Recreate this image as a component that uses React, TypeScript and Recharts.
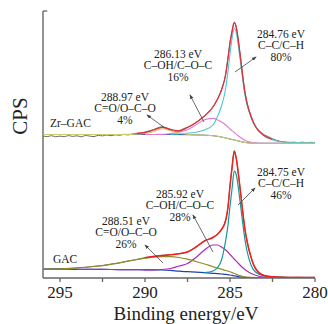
import { Line, LineChart, ReferenceLine, XAxis, YAxis } from "recharts";

// binding energies (eV) shared by the fitted curves
const energy = [
  296, 295, 294, 293, 292, 291, 290.5, 290, 289.5, 289, 288.5, 288, 287.5, 287,
  286.5, 286, 285.75, 285.5, 285.25, 285.125, 285, 284.875, 284.75, 284.625,
  284.5, 284.375, 284.25, 284.125, 284, 283.75, 283.5, 283, 282.5, 282, 281, 280,
];

// Zr-GAC (upper spectrum, offset)
const zrBackground = [
  143.5, 143.5, 143.5, 143.5, 143.5, 143.5, 143.5, 143.5, 143.5, 143.5, 143.5,
  143.4, 143.3, 143.1, 142.8, 142.3, 141.7, 141, 140, 139.5, 139, 138.5, 138,
  137.5, 137, 136.5, 136, 135.6, 135.3, 135, 134.8, 134.7, 134.7, 134.7, 134.7,
  134.7,
];
const zrCO = [
  143.5, 143.5, 143.5, 143.5, 143.5, 143.6, 143.8, 144.5, 146.3, 149.3, 147.3,
  145, 143.8, 143.1, 142.8, 142.3, 141.7, 141, 140, 139.5, 139, 138.5, 138,
  137.5, 137, 136.5, 136, 135.6, 135.3, 135, 134.8, 134.7, 134.7, 134.7, 134.7,
  134.7,
];
const zrCOH = [
  null, null, null, null, null, null, null, 143.5, 143.5, 143.6, 144.5, 145.9,
  148.3, 153.1, 158.3, 159.6, 158.2, 156, 153, 151, 149, 147.2, 145.5, 143.7,
  142, 140.5, 139, 137.8, 136.8, 135.7, 135, 134.7, 134.7, 134.7, 134.7, 134.7,
];
const zrCC = [
  null, null, null, null, null, null, null, null, null, null, 143.8, 144.2,
  144.8, 145.8, 148, 153, 161, 172, 190, 206, 224, 240, 249.7, 245, 231, 215,
  198, 183, 173.5, 160, 151, 142.3, 138.3, 136.2, 135.5, 135.2,
];
const zrEnvelope = [
  null, null, null, null, null, null, 144.5, 145.5, 148, 150.7, 148.5, 147,
  150.5, 155.5, 162, 171, 178.5, 188, 204, 219, 235, 247, 255.3, 250, 236, 219,
  201.5, 186, 175, 161, 151.5, 142.5, 138.5, null, null, null,
];
const zrRaw: [number, number][] = [
  [296, 142], [295.75, 141.4], [295.5, 142.3], [295.25, 141.2], [295, 141.9],
  [294.75, 141.3], [294.5, 142.4], [294.25, 141.6], [294, 142.2], [293.75, 141.2],
  [293.5, 142.5], [293.25, 141.9], [293, 141.4], [292.75, 142.7], [292.5, 142.1],
  [292.25, 143], [292, 142.3], [291.75, 143.2], [291.5, 142.7], [291.25, 143.6],
  [291, 143.1], [290.75, 144], [290.5, 144.6], [290.25, 144.9], [290, 145.9],
  [289.75, 147.2], [289.5, 148.4], [289.25, 150.2], [289, 151.2], [288.75, 150.3],
  [288.5, 148.6], [288.25, 146.5], [288, 147.3], [287.75, 149.2], [287.5, 150.8],
  [287, 155.2], [286.5, 162.4], [286, 171.3], [285.75, 178.3], [285.5, 188.4],
  [285.25, 204.4], [285.125, 219.3], [285, 235.4], [284.875, 247.3],
  [284.75, 255.8], [284.625, 250.4], [284.5, 236.3], [284.375, 219.4],
  [284.25, 201.9], [284.125, 186.4], [284, 175.4], [283.75, 161.4],
  [283.5, 151.9], [283.25, 146.8], [283, 143.3], [282.75, 141.4], [282.5, 139.2],
  [282.25, 137.6], [282, 136.5], [281.75, 136], [281.5, 135.2], [281.25, 135.8],
  [281, 135.2], [280.75, 135.9], [280.5, 135.1], [280.25, 135.7], [280, 135.4],
];

// GAC (lower spectrum)
const gacBackground = [
  8.8, 8.8, 8.7, 8.6, 8.5, 8.4, 8.3, 8.2, 8.1, 8, 7.6, 6.8, 6.3, 5.8, 5.3, 4.7,
  4.4, 4, 3.6, 3.3, 3, 2.6, 2.2, 1.8, 1.4, 1.1, 0.8, 0.6, 0.5, 0.5, 0.5, 0.5,
  0.5, 0.5, 0.5, 0.5,
];
const gacCO = [
  8.8, 9.2, 10, 11.5, 13.7, 16.8, 18.3, 19.8, 20.8, 21.3, 21.3, 20.5, 18.8, 16.5,
  14, 11.3, 10, 8.8, 7.5, 6.9, 6.3, 5.4, 4.5, 3.6, 2.8, 2.1, 1.5, 1.1, 0.8, 0.6,
  0.5, 0.5, 0.5, 0.5, 0.5, 0.5,
];
const gacCOH = [
  null, null, 8.7, 8.6, 8.5, 8.4, 8.3, 8.2, 8.2, 8.5, 9.5, 12, 14.5, 20.5, 28,
  33, 33, 31, 28, 26, 23.5, 21.3, 19, 16.8, 14.5, 12.3, 10.3, 8.5, 7, 4.5, 2.8,
  1, 0.6, 0.5, 0.5, 0.5,
];
const gacCC = [
  null, null, null, null, null, null, null, null, null, null, null, null, null,
  null, 5.3, 7, 10, 18, 38, 52, 72, 90, 107, 103, 89, 72, 55, 39, 27, 12.5, 6,
  2, 1, 0.6, 0.5, 0.5,
];
const gacEnvelope = [
  null, null, null, null, null, null, null, 20.2, 21.5, 22.5, 23.2, 24.2, 26,
  31, 37, 40.5, 43.5, 48.5, 58, 70, 92, 111, 126.3, 119, 103, 85, 66, 49, 37,
  20, 9.5, 2.5, 1.2, 0.8, 0.5, 0.5,
];
const gacRaw: [number, number][] = [
  [296, 8.9], [295.5, 9.2], [295, 9.4], [294.5, 9.6], [294, 10.2], [293.5, 10.7],
  [293, 11.7], [292.5, 12.5], [292, 13.9], [291.5, 15.1], [291, 17], [290.5, 18.5],
  [290, 20.4], [289.5, 21.7], [289, 22.7], [288.5, 23.4], [288, 24.4],
  [287.5, 26.3], [287, 31.2], [286.5, 37.2], [286, 40.8], [285.75, 43.7],
  [285.5, 48.7], [285.25, 58.2], [285.125, 70.2], [285, 92.3], [284.875, 111.3],
  [284.75, 127.5], [284.625, 119.3], [284.5, 103.2], [284.375, 85.3],
  [284.25, 66.3], [284.125, 49.2], [284, 37.3], [283.75, 20.3], [283.5, 9.8],
  [283, 2.8], [282.5, 1.4], [282, 1], [281.5, 0.7], [281, 0.8], [280.5, 0.6],
  [280, 0.7],
];

const xTicks = [295, 292.5, 290, 287.5, 285, 282.5, 280];

const notes = [
  { lines: ["284.76 eV", "C–C/C–H", "80%"], x: 281, y: 38 },
  { lines: ["286.13 eV", "C–OH/C–O–C", "16%"], x: 178, y: 58 },
  { lines: ["288.97 eV", "C=O/O–C–O", "4%"], x: 125, y: 101 },
  { lines: ["284.75 eV", "C–C/C–H", "46%"], x: 281, y: 176 },
  { lines: ["285.92 eV", "C–OH/C–O–C", "28%"], x: 180, y: 198 },
  { lines: ["288.51 eV", "C=O/O–C–O", "26%"], x: 126, y: 225 },
];
const arrows = [
  [235, 72, 256, 57],
  [204, 122, 190, 95],
  [165, 128, 147, 115],
  [238, 205, 255, 188],
  [213, 252, 193, 215],
  [163, 263, 145, 245],
];

const serif = '"Liberation Serif", "DejaVu Serif", serif';

const onGrid = (values: (number | null)[]) =>
  energy.map((e, i) => ({ e, v: values[i] }));
const fromPairs = (pairs: [number, number][]) =>
  pairs.map(([e, v]) => ({ e, v }));

const series = [
  { data: fromPairs(zrRaw), color: "#6a6a6a", w: 1 },
  { data: onGrid(zrBackground), color: "#3448b8", w: 1 },
  { data: onGrid(zrCOH), color: "#e07ad6", w: 1.1 },
  { data: onGrid(zrCC), color: "#4cc8cc", w: 1.1 },
  { data: onGrid(zrCO), color: "#cccc6a", w: 1.1 },
  { data: onGrid(zrEnvelope), color: "#e0303c", w: 1.3 },
  { data: fromPairs(gacRaw), color: "#6a6a6a", w: 1 },
  { data: onGrid(gacBackground), color: "#2440b0", w: 1.2 },
  { data: onGrid(gacCOH), color: "#b02cb4", w: 1.2 },
  { data: onGrid(gacCO), color: "#8e8e26", w: 1.2 },
  { data: onGrid(gacCC), color: "#0e9a96", w: 1.2 },
  { data: onGrid(gacEnvelope), color: "#f0201c", w: 1.5 },
];

function EnergyTick(props: any) {
  const { x, y, payload } = props;
  const v = payload.value as number;
  if (v % 5 !== 0) return null;
  return (
    <text
      x={x}
      y={y + 12}
      textAnchor="middle"
      fill="#222"
      fontSize={17}
      fontFamily={serif}
    >
      {v}
    </text>
  );
}

export default function App() {
  return (
    <div
      style={{
        position: "absolute",
        left: 0,
        top: 0,
        width: 328,
        height: 324,
        background: "#fff",
        fontFamily: serif,
      }}
    >
      <LineChart
        width={328}
        height={324}
        margin={{ top: 11, right: 13, left: 43, bottom: 16 }}
      >
        <XAxis
          type="number"
          dataKey="e"
          domain={[280, 296]}
          reversed
          allowDataOverflow
          ticks={xTicks}
          interval={0}
          tickSize={4}
          tickMargin={4}
          height={30}
          stroke="#666"
          strokeWidth={1.3}
          tick={<EnergyTick />}
        />
        <YAxis hide type="number" domain={[0, 267]} allowDataOverflow />
        <ReferenceLine x={296} stroke="#666" strokeWidth={1.4} />
        <ReferenceLine
          segment={[
            { x: 296, y: 267 },
            { x: 295.75, y: 267 },
          ]}
          stroke="#666"
          strokeWidth={1.3}
        />
        {series.map((s, i) => (
          <Line
            key={i}
            data={s.data}
            dataKey="v"
            type="monotone"
            dot={false}
            stroke={s.color}
            strokeWidth={s.w}
            isAnimationActive={false}
          />
        ))}
      </LineChart>
      <svg
        width={328}
        height={324}
        style={{ position: "absolute", left: 0, top: 0, pointerEvents: "none" }}
        fontFamily={serif}
      >
        <defs>
          <marker
            id="head"
            markerWidth="6"
            markerHeight="6"
            refX="5"
            refY="3"
            orient="auto"
          >
            <path d="M0,0.8 L6,3 L0,5.2 Z" fill="#444" />
          </marker>
        </defs>
        {arrows.map(([x1, y1, x2, y2], i) => (
          <line
            key={i}
            x1={x1}
            y1={y1}
            x2={x2}
            y2={y2}
            stroke="#444"
            strokeWidth={0.8}
            markerEnd="url(#head)"
          />
        ))}
        {notes.map((n, i) => (
          <text key={i} textAnchor="middle" fontSize={11.5} fill="#222">
            {n.lines.map((t, j) => (
              <tspan key={j} x={n.x} y={n.y + j * 11.4}>
                {t}
              </tspan>
            ))}
          </text>
        ))}
        <text x={50} y={127} fontSize={11.5} fill="#222">
          Zr–GAC
        </text>
        <text x={53} y={263} fontSize={11.5} fill="#222">
          GAC
        </text>
        <text
          x={186}
          y={319.5}
          textAnchor="middle"
          fontSize={19}
          fill="#222"
        >
          Binding energy/eV
        </text>
        <text
          transform="translate(27,116) rotate(-90)"
          textAnchor="middle"
          fontSize={21}
          fill="#222"
        >
          CPS
        </text>
      </svg>
    </div>
  );
}
